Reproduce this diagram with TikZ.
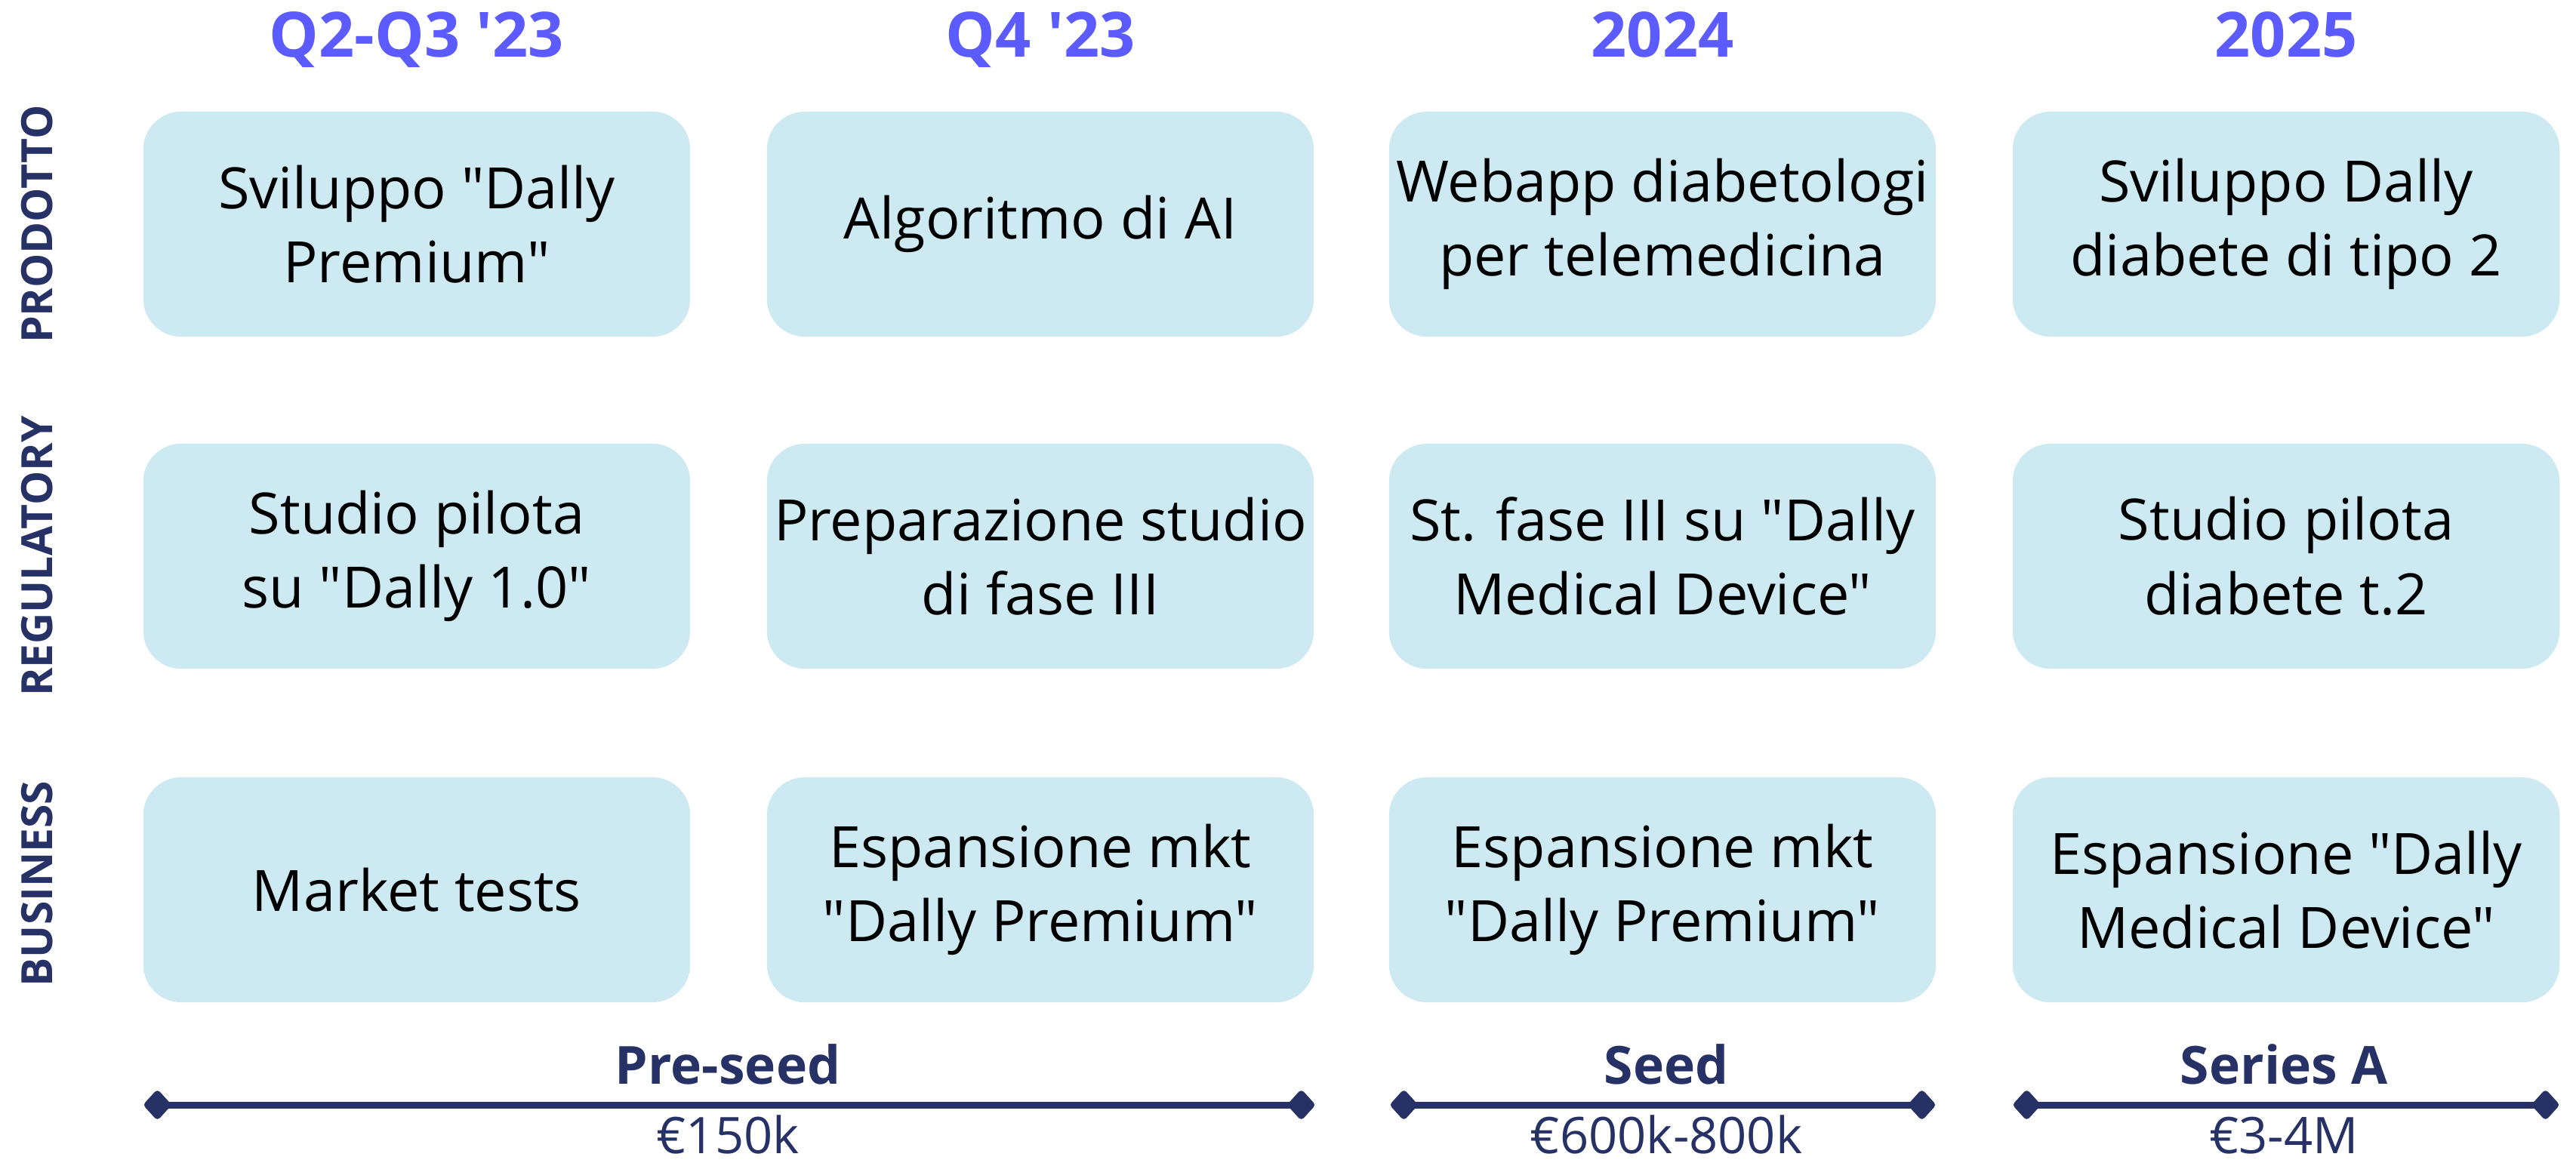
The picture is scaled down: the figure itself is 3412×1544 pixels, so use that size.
\documentclass[tikz,border=0pt]{standalone}
\usepackage{fontspec}
\setmainfont{Open Sans}[Ligatures=TeXOff]
\usetikzlibrary{arrows.meta}
\definecolor{boxfill}{HTML}{CDE9F1}
\definecolor{navy}{HTML}{263166}
\definecolor{hdrblue}{HTML}{5B5BFF}
\begin{document}
\begin{tikzpicture}[x=0.01cm,y=-0.01cm,
  cell/.style={fill=boxfill, rounded corners=0.5cm, minimum width=7.24cm, minimum height=2.98cm,
    align=center, inner sep=0pt, text=black, font=\fontsize{21.5}{28}\selectfont},
  hdr/.style={text=hdrblue, anchor=base, font=\fontsize{23.5}{28}\selectfont\bfseries},
  rowlab/.style={rotate=90, text=navy, inner sep=0pt, font=\fontsize{16.2}{18}\selectfont\bfseries},
  fundname/.style={text=navy, anchor=base, font=\fontsize{19.8}{23}\selectfont\bfseries},
  fundamt/.style={text=navy, anchor=base, inner sep=0pt, text depth=0pt, font=\fontsize{19}{23}\selectfont},
  fundbar/.style={draw=navy, line width=0.09cm,
    {Turned Square[length=0.38cm,width=0.42cm,round]}-{Turned Square[length=0.38cm,width=0.42cm,round]}}
]
\useasboundingbox (0,0) rectangle (3412,1544);

% headers
\node[hdr] (h1) at (552,75) {Q2-Q3 '23};
\node[hdr] (h2) at (1378,75) {Q4 '23};
\node[hdr] (h3) at (2202,75) {2024};
\node[hdr] (h4) at (3028,75) {2025};

% row labels
\node[rowlab] (l1) at (49,297) {PRODOTTO};
\node[rowlab] (l2) at (49,737) {REGULATORY};
\node[rowlab] (l3) at (49,1171) {BUSINESS};

% row 1
\node[cell] (p1) at (552,297) {Sviluppo "Dally\\Premium"};
\node[cell] (p2) at (1378,297) {Algoritmo di AI};
\node[cell] (p3) at (2202,297) {Webapp diabetologi\\per telemedicina};
\node[cell] (p4) at (3028,297) {Sviluppo Dally\\diabete di tipo 2};
% row 2
\node[cell] (r1) at (552,737) {Studio pilota\\su "Dally 1.0"};
\node[cell] (r2) at (1378,737) {Preparazione studio\\di fase III};
\node[cell] (r3) at (2202,737) {St. fase III su "Dally\\Medical Device"};
\node[cell] (r4) at (3028,737) {Studio pilota\\diabete t.2};
% row 3
\node[cell] (b1) at (552,1179) {Market tests};
\node[cell] (b2) at (1378,1179) {Espansione mkt\\"Dally Premium"};
\node[cell] (b3) at (2202,1179) {Espansione mkt\\"Dally Premium"};
\node[cell] (b4) at (3028,1179) {Espansione "Dally\\Medical Device"};

% funding bars
\coordinate (s1a) at (191,1464);
\coordinate (s1b) at (1741,1464);
\coordinate (s2a) at (1842,1464);
\coordinate (s2b) at (2563,1464);
\coordinate (s3a) at (2667,1464);
\coordinate (s3b) at (3389,1464);
\draw[fundbar] (s1a) -- (s1b);
\draw[fundbar] (s2a) -- (s2b);
\draw[fundbar] (s3a) -- (s3b);

\node[fundname] (f1) at (964,1436) {Pre-seed};
\node[fundname] (f2) at (2207,1436) {Seed};
\node[fundname] (f3) at (3025,1436) {Series A};
\node[fundamt] (a1) at (964,1528) {€150k};
\node[fundamt] (a2) at (2207,1528) {€600k-800k};
\node[fundamt] (a3) at (3025,1528) {€3-4M};
\end{tikzpicture}
\end{document}
